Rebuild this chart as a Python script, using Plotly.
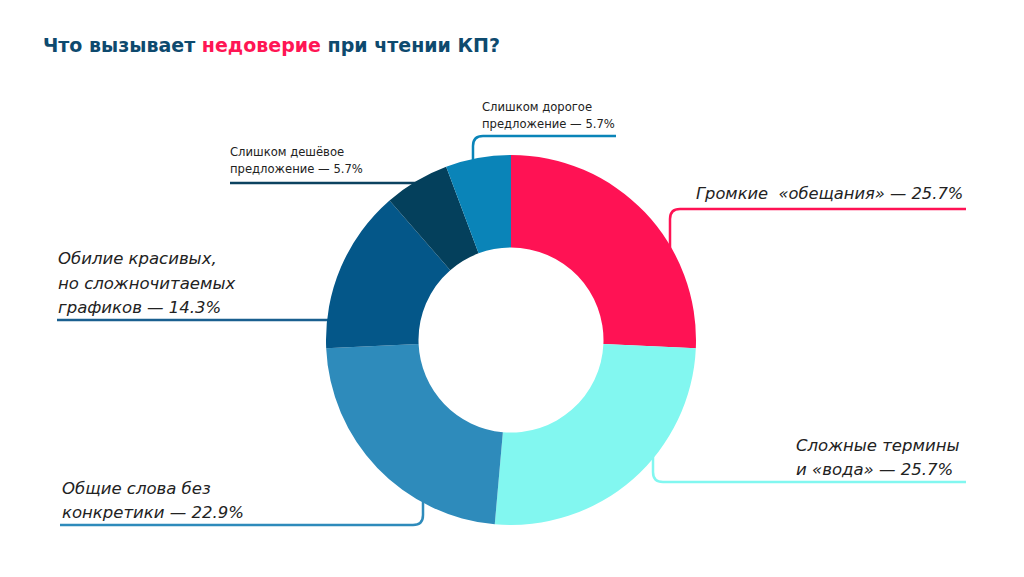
import plotly.graph_objects as go

# ---- data ----
categories = [
    "Громкие «обещания»",
    "Сложные термины и «вода»",
    "Общие слова без конкретики",
    "Обилие красивых, но сложночитаемых графиков",
    "Слишком дешёвое предложение",
    "Слишком дорогое предложение",
]
values = [25.7, 25.7, 22.9, 14.3, 5.7, 5.7]
colors = ["#FF1254", "#82F7F0", "#2E8BBB", "#045789", "#04405C", "#0A84B8"]

# label text lines (one list per category)
label_lines = [
    ["Громкие  «обещания» — 25.7%"],
    ["Сложные термины", "и «вода» — 25.7%"],
    ["Общие слова без", "конкретики — 22.9%"],
    ["Обилие красивых,", "но сложночитаемых", "графиков — 14.3%"],
    ["Слишком дешёвое", "предложение — 5.7%"],
    ["Слишком дорогое", "предложение — 5.7%"],
]

W, H = 1024, 577
CX, CY, R = 511, 340, 185


def px(x):
    return x / W


def py(y):
    return 1 - y / H


fig = go.Figure()
fig.add_trace(go.Pie(
    labels=categories,
    values=values,
    sort=False,
    direction="clockwise",
    rotation=0,
    hole=0.5,
    marker=dict(colors=colors, line=dict(width=0)),
    textinfo="none",
    hoverinfo="label+percent",
    showlegend=False,
    domain=dict(x=[px(CX - R), px(CX + R)], y=[py(CY + R), py(CY - R)]),
))


def path(points_cmds):
    out = []
    for cmd in points_cmds:
        c = cmd[0]
        coords = cmd[1:]
        pairs = []
        for i in range(0, len(coords), 2):
            pairs.append(f"{px(coords[i]):.5f},{py(coords[i+1]):.5f}")
        out.append(c + " " + " ".join(pairs))
    return " ".join(out)


leaders = [
    [("M", 966, 209), ("L", 680, 209), ("Q", 670, 209, 670, 219), ("L", 670, 270)],
    [("M", 966, 482), ("L", 663, 482), ("Q", 653, 482, 653, 472), ("L", 653, 430)],
    [("M", 60, 525), ("L", 413, 525), ("Q", 423, 525, 423, 515), ("L", 423, 480)],
    [("M", 57, 320), ("L", 370, 320)],
    [("M", 230, 183), ("L", 440, 183)],
    [("M", 616, 136), ("L", 483, 136), ("Q", 473, 136, 473, 146), ("L", 473, 185)],
]
line_colors = ["#FF1254", "#82F7F0", "#2E8BBB", "#1A5F8F", "#0C4260", "#0A84B8"]

shapes = []
for pts, lc in zip(leaders, line_colors):
    shapes.append(dict(type="path", xref="paper", yref="paper", path=path(pts),
                       line=dict(color=lc, width=2.5), layer="below"))

FONT = "DejaVu Sans"
label_pos = [
    # (x, [y lines], anchor, size, italic)
    (965, [193], "right", 16.3, True),
    (794, [445, 469], "left", 16.5, True),
    (60, [488, 512], "left", 16.5, True),
    (56, [258, 283, 307], "left", 16.5, True),
    (228, [152, 169], "left", 11.6, False),
    (480, [107, 124], "left", 11.6, False),
]

annotations = []
for lines, (x, ys, anc, size, italic) in zip(label_lines, label_pos):
    for t, y in zip(lines, ys):
        txt = f"<i>{t}</i>" if italic else t
        annotations.append(dict(x=px(x), y=py(y), xref="paper", yref="paper",
                                text=txt, showarrow=False, xanchor=anc, yanchor="middle",
                                font=dict(family=FONT, size=size, color="#222222")))

annotations.append(dict(
    x=px(41), y=py(45), xref="paper", yref="paper", xanchor="left", yanchor="middle",
    showarrow=False,
    text="<b>Что вызывает <span style='color:#FF1654'>недоверие</span> при чтении КП?</b>",
    font=dict(family=FONT, size=19, color="#0E4A6E"),
))

fig.update_layout(
    width=W, height=H,
    margin=dict(l=0, r=0, t=0, b=0),
    paper_bgcolor="white", plot_bgcolor="white",
    shapes=shapes, annotations=annotations,
)

fig.write_html("out.html")
